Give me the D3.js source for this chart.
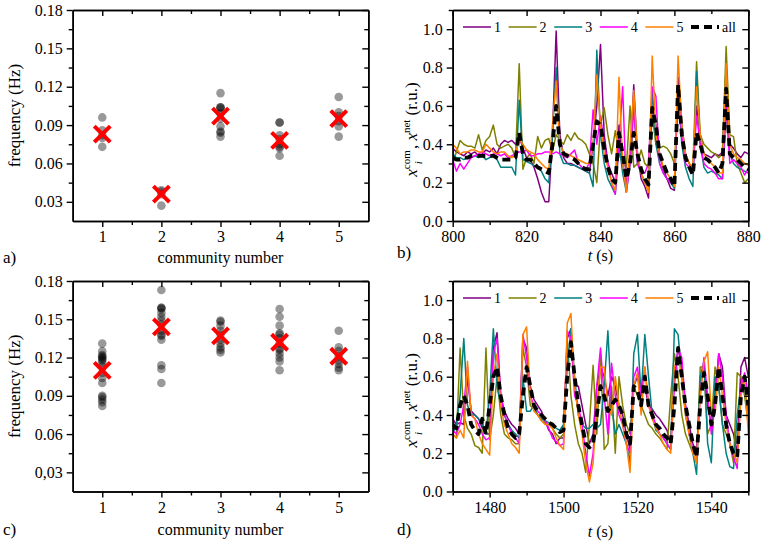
<!DOCTYPE html>
<html><head><meta charset="utf-8">
<script src="https://cdn.jsdelivr.net/npm/d3@7"></script>
<style>
body{margin:0;background:#fff}
text{font-family:"Liberation Serif","Times New Roman",serif;fill:#000}
</style>
</head><body>
<svg id="chart" width="764" height="544"></svg>
<script>
// ---------------- DATA ----------------
const categories = [1, 2, 3, 4, 5];
const freqTicksA = [0.03, 0.06, 0.09, 0.12, 0.15, 0.18];
const freqTickLabelsA = ["0.03", "0.06", "0.09", "0.12", "0.15", "0.18"];
const freqTickLabelsC = ["0,03", "0.06", "0.09", "0.12", "0.15", "0.18"];

// panel a: per-community node frequencies (Hz) and community frequency (red X)
const freqA1 = [0.096, 0.086, 0.082, 0.080, 0.073];
const freqA2 = [0.039, 0.038, 0.036, 0.027];
const freqA3 = [0.115, 0.104, 0.104, 0.103, 0.099, 0.095, 0.089, 0.085, 0.084, 0.081];
const freqA4 = [0.092, 0.092, 0.082, 0.079, 0.075, 0.073, 0.072, 0.066];
const freqA5 = [0.112, 0.100, 0.097, 0.093, 0.089, 0.081];
const meanA = [0.083, 0.036, 0.097, 0.078, 0.095];

// panel c
const freqC1 = [0.131, 0.125, 0.122, 0.121, 0.120, 0.119, 0.118, 0.116, 0.113, 0.108, 0.104, 0.100, 0.090, 0.089, 0.087, 0.085, 0.082];
const freqC2 = [0.173, 0.159, 0.159, 0.158, 0.155, 0.152, 0.149, 0.146, 0.141, 0.138, 0.137, 0.134, 0.114, 0.111, 0.100];
const freqC3 = [0.149, 0.148, 0.145, 0.141, 0.138, 0.134, 0.131, 0.128, 0.126, 0.124];
const freqC4 = [0.158, 0.152, 0.145, 0.139, 0.138, 0.135, 0.131, 0.127, 0.126, 0.123, 0.120, 0.117, 0.110];
const freqC5 = [0.141, 0.128, 0.125, 0.121, 0.118, 0.115, 0.112, 0.110];
const meanC = [0.110, 0.144, 0.137, 0.132, 0.121];

// panel b: time 800..880 s, 1 s step
const timeB = d3.range(800, 881);
const b1 = [0.38,0.36,0.35,0.34,0.36,0.35,0.36,0.34,0.35,0.37,0.36,0.38,0.35,0.40,0.42,0.41,0.42,0.40,0.44,0.38,
            0.33,0.32,0.28,0.22,0.15,0.10,0.10,0.45,0.99,0.45,0.33,0.30,0.30,0.29,0.28,0.27,0.26,0.25,0.40,0.60,
            0.92,0.45,0.30,0.25,0.20,0.50,0.30,0.20,0.30,0.71,0.35,0.22,0.18,0.12,0.60,0.50,0.35,0.27,0.22,0.17,
            0.16,0.75,0.50,0.35,0.30,0.25,0.60,0.45,0.35,0.34,0.33,0.35,0.34,0.36,0.80,0.40,0.38,0.35,0.33,0.36,0.35];
const b2 = [0.30,0.36,0.42,0.40,0.39,0.39,0.38,0.45,0.37,0.42,0.44,0.50,0.40,0.38,0.39,0.40,0.38,0.33,0.82,0.27,
            0.33,0.35,0.30,0.44,0.38,0.42,0.43,0.36,0.45,0.42,0.40,0.45,0.42,0.46,0.43,0.42,0.40,0.35,0.30,0.20,
            0.50,0.59,0.45,0.35,0.47,0.35,0.30,0.28,0.60,0.28,0.30,0.37,0.30,0.28,0.55,0.40,0.38,0.39,0.38,0.35,
            0.30,0.60,0.45,0.35,0.30,0.28,0.83,0.45,0.40,0.38,0.36,0.35,0.33,0.35,0.91,0.45,0.44,0.30,0.25,0.20,0.22];
const b3 = [0.35,0.33,0.33,0.32,0.33,0.33,0.34,0.33,0.34,0.32,0.33,0.34,0.32,0.28,0.28,0.28,0.28,0.24,0.63,0.32,
            0.31,0.30,0.29,0.28,0.26,0.22,0.20,0.45,0.80,0.35,0.30,0.30,0.29,0.29,0.28,0.27,0.26,0.25,0.18,0.89,
            0.45,0.30,0.22,0.18,0.14,0.40,0.25,0.15,0.30,0.60,0.30,0.25,0.20,0.18,0.69,0.40,0.30,0.25,0.22,0.20,
            0.17,0.70,0.40,0.28,0.22,0.18,0.78,0.40,0.28,0.25,0.26,0.25,0.24,0.22,0.60,0.35,0.30,0.28,0.27,0.26,0.25];
const b4 = [0.32,0.26,0.30,0.27,0.30,0.33,0.34,0.35,0.36,0.35,0.34,0.35,0.35,0.34,0.35,0.33,0.34,0.35,0.36,0.36,
            0.37,0.34,0.34,0.35,0.35,0.36,0.36,0.35,0.36,0.35,0.34,0.33,0.35,0.37,0.30,0.28,0.27,0.30,0.58,0.40,
            0.55,0.40,0.30,0.20,0.14,0.40,0.70,0.15,0.30,0.60,0.30,0.25,0.25,0.30,0.70,0.65,0.30,0.25,0.22,0.20,
            0.20,0.70,0.45,0.30,0.28,0.25,0.55,0.40,0.30,0.28,0.27,0.25,0.22,0.22,0.60,0.30,0.32,0.30,0.28,0.24,0.27];
const b5 = [0.40,0.38,0.35,0.36,0.36,0.37,0.37,0.36,0.36,0.40,0.38,0.36,0.35,0.36,0.36,0.34,0.33,0.35,0.43,0.40,
            0.37,0.36,0.35,0.32,0.30,0.28,0.27,0.50,0.73,0.40,0.36,0.35,0.34,0.33,0.32,0.31,0.30,0.30,0.40,0.76,
            0.50,0.35,0.28,0.20,0.16,0.75,0.30,0.15,0.40,0.68,0.35,0.25,0.20,0.15,0.86,0.45,0.35,0.28,0.25,0.22,
            0.18,0.86,0.50,0.35,0.30,0.28,0.70,0.45,0.35,0.32,0.30,0.28,0.25,0.25,0.82,0.40,0.35,0.33,0.32,0.30,0.29];
const bAll = [0.33,0.32,0.32,0.33,0.33,0.34,0.34,0.34,0.34,0.34,0.34,0.34,0.33,0.32,0.32,0.32,0.32,0.33,0.46,0.35,
              0.32,0.32,0.30,0.28,0.27,0.26,0.25,0.40,0.60,0.40,0.35,0.34,0.33,0.32,0.30,0.28,0.27,0.27,0.40,0.52,
              0.50,0.38,0.28,0.22,0.20,0.46,0.35,0.22,0.30,0.46,0.35,0.27,0.22,0.19,0.59,0.50,0.35,0.30,0.25,0.22,
              0.18,0.71,0.45,0.33,0.28,0.24,0.46,0.40,0.33,0.32,0.30,0.28,0.25,0.30,0.69,0.35,0.33,0.32,0.30,0.28,0.27];

// panel d: time 1470..1550 s, 1 s step
const timeD = d3.range(1470, 1551);
const d1 = [0.38,0.35,0.36,0.35,0.60,0.42,0.40,0.38,0.33,0.30,0.30,0.75,0.83,0.50,0.42,0.38,0.35,0.33,0.30,0.80,
            0.75,0.55,0.48,0.45,0.42,0.37,0.32,0.30,0.25,0.28,0.28,0.80,0.85,0.55,0.55,0.45,0.35,0.25,0.30,0.55,
            0.65,0.60,0.50,0.60,0.55,0.45,0.40,0.30,0.22,0.55,0.60,0.50,0.55,0.45,0.43,0.40,0.38,0.35,0.32,0.25,
            0.60,0.75,0.65,0.45,0.35,0.25,0.20,0.55,0.65,0.45,0.35,0.50,0.72,0.65,0.40,0.35,0.30,0.20,0.65,0.70,0.60];
const d2 = [0.30,0.28,0.75,0.40,0.33,0.30,0.24,0.23,0.20,0.75,0.27,0.40,0.60,0.40,0.30,0.28,0.27,0.25,0.25,0.75,
            0.65,0.45,0.43,0.40,0.37,0.36,0.35,0.33,0.30,0.28,0.30,0.80,0.50,0.35,0.25,0.20,0.10,0.35,0.66,0.30,
            0.72,0.22,0.25,0.55,0.20,0.60,0.45,0.35,0.30,0.55,0.50,0.45,0.40,0.35,0.33,0.30,0.28,0.25,0.22,0.50,
            0.72,0.60,0.40,0.30,0.25,0.20,0.15,0.65,0.65,0.30,0.35,0.65,0.55,0.35,0.30,0.25,0.15,0.62,0.60,0.50,0.35];
const d3s = [0.30,0.35,0.50,0.80,0.45,0.40,0.40,0.38,0.35,0.30,0.50,0.85,0.55,0.45,0.40,0.35,0.32,0.30,0.28,0.60,
             0.42,0.42,0.45,0.40,0.38,0.37,0.36,0.35,0.33,0.32,0.35,0.65,0.85,0.60,0.40,0.35,0.33,0.33,0.35,0.33,
             0.35,0.55,0.84,0.45,0.30,0.35,0.30,0.25,0.15,0.72,0.82,0.50,0.82,0.60,0.40,0.32,0.30,0.28,0.25,0.22,
             0.85,0.82,0.60,0.40,0.30,0.20,0.09,0.60,0.68,0.25,0.15,0.60,0.55,0.35,0.20,0.13,0.12,0.40,0.55,0.55,0.40];
const d4 = [0.32,0.30,0.35,0.45,0.65,0.40,0.38,0.35,0.30,0.27,0.28,0.72,0.80,0.50,0.40,0.35,0.30,0.28,0.25,0.82,
            0.70,0.50,0.45,0.42,0.40,0.37,0.33,0.28,0.26,0.24,0.25,0.84,0.80,0.50,0.45,0.35,0.20,0.08,0.20,0.55,
            0.75,0.50,0.30,0.67,0.50,0.40,0.35,0.25,0.20,0.60,0.65,0.50,0.65,0.45,0.40,0.35,0.30,0.28,0.25,0.22,
            0.55,0.75,0.70,0.45,0.30,0.22,0.18,0.50,0.70,0.50,0.30,0.45,0.72,0.60,0.40,0.25,0.18,0.12,0.55,0.62,0.50];
const d5 = [0.30,0.28,0.32,0.28,0.68,0.40,0.38,0.30,0.25,0.22,0.19,0.60,0.72,0.45,0.35,0.30,0.25,0.23,0.20,0.82,
            0.86,0.50,0.42,0.40,0.37,0.35,0.35,0.33,0.28,0.24,0.22,0.88,0.93,0.55,0.40,0.30,0.15,0.05,0.15,0.45,
            0.65,0.65,0.45,0.40,0.60,0.45,0.35,0.25,0.10,0.55,0.62,0.40,0.65,0.45,0.38,0.33,0.30,0.25,0.22,0.20,
            0.65,0.70,0.60,0.40,0.30,0.20,0.15,0.50,0.68,0.73,0.40,0.40,0.65,0.50,0.35,0.25,0.20,0.15,0.50,0.60,0.30];
const dAll = [0.35,0.33,0.45,0.50,0.45,0.35,0.32,0.30,0.38,0.30,0.45,0.60,0.65,0.50,0.40,0.33,0.30,0.28,0.30,0.50,
              0.65,0.55,0.45,0.42,0.40,0.38,0.36,0.35,0.33,0.31,0.32,0.60,0.78,0.60,0.45,0.35,0.25,0.23,0.25,0.40,
              0.55,0.50,0.42,0.45,0.48,0.45,0.40,0.30,0.25,0.55,0.53,0.45,0.60,0.45,0.40,0.35,0.33,0.30,0.28,0.25,
              0.45,0.75,0.60,0.45,0.35,0.25,0.18,0.45,0.62,0.50,0.35,0.45,0.65,0.50,0.35,0.25,0.20,0.18,0.50,0.60,0.45];

const seriesNames = ["1", "2", "3", "4", "5", "all"];
const seriesColors = ["#800080", "#808000", "#008080", "#ff00ff", "#ff8000", "#000000"];
const xTicksB = [800, 820, 840, 860, 880];
const xMinorB = [810, 830, 850, 870];
const xTicksD = [1480, 1500, 1520, 1540];
const xMinorD = [1470, 1490, 1510, 1530, 1550];
const yTicksR = [0.0, 0.2, 0.4, 0.6, 0.8, 1.0];
const yMinorR = [0.1, 0.3, 0.5, 0.7, 0.9, 1.1];

// ---------------- DRAWING ----------------
const svg = d3.select("#chart");
const LX0 = 72.7, LX1 = 368.3, RX0 = 452.7, RX1 = 748.3;
const ROW1 = [10, 221], ROW2 = [281, 491.5];

function drawFrame(x, y, opts) {
  const g = svg.append("g");
  const [x0, x1] = x.range();
  const [yb, yt] = y.range();
  const style = sel => {
    sel.attr("font-family", null);
    sel.selectAll("path.domain").attr("stroke", "#000").attr("stroke-width", 1.6);
    sel.selectAll(".tick line").attr("stroke", "#000").attr("stroke-width", 1.4);
    sel.selectAll("text").attr("font-size", 16);
  };
  g.append("g").attr("transform", `translate(0,${yb})`)
    .call(d3.axisBottom(x).tickValues(opts.xTicks).tickSize(6).tickSizeOuter(0).tickPadding(4).tickFormat(opts.xFmt))
    .call(style);
  g.append("g").attr("transform", `translate(0,${yb})`)
    .call(d3.axisBottom(x).tickValues(opts.xMinor).tickSize(4).tickSizeOuter(0).tickFormat(""))
    .call(style);
  g.append("g").attr("transform", `translate(0,${yt})`)
    .call(d3.axisTop(x).tickValues(opts.xTicks).tickSize(-6).tickSizeOuter(0).tickFormat(""))
    .call(style);
  g.append("g").attr("transform", `translate(0,${yt})`)
    .call(d3.axisTop(x).tickValues(opts.xMinor).tickSize(-4).tickSizeOuter(0).tickFormat(""))
    .call(style);
  g.append("g").attr("transform", `translate(${x0},0)`)
    .call(d3.axisLeft(y).tickValues(opts.yTicks).tickSize(6).tickSizeOuter(0).tickPadding(4)
      .tickFormat((d, i) => opts.yLabels[i]))
    .call(style);
  g.append("g").attr("transform", `translate(${x0},0)`)
    .call(d3.axisLeft(y).tickValues(opts.yMinor).tickSize(4).tickSizeOuter(0).tickFormat(""))
    .call(style);
  g.append("g").attr("transform", `translate(${x1},0)`)
    .call(d3.axisRight(y).tickValues(opts.yTicks).tickSize(-6).tickSizeOuter(0).tickFormat(""))
    .call(style);
  g.append("g").attr("transform", `translate(${x1},0)`)
    .call(d3.axisRight(y).tickValues(opts.yMinor).tickSize(-4).tickSizeOuter(0).tickFormat(""))
    .call(style);
}

function scatterPanel(row, groups, means, yLabels, letter, letterY, titleY) {
  const x = d3.scaleLinear().domain([0.5, 5.5]).range([LX0, LX1]);
  const y = d3.scaleLinear().domain([0.015, 0.18]).range([row[1], row[0]]);
  const pts = svg.append("g");
  groups.forEach((vals, i) => {
    pts.selectAll(null).data(vals).enter().append("circle")
      .attr("cx", x(categories[i])).attr("cy", d => y(d)).attr("r", 4.3)
      .attr("fill", "#000").attr("fill-opacity", 0.4);
  });
  const s = 8;
  const xs = svg.append("g");
  means.forEach((m, i) => {
    const cx = x(categories[i]), cy = y(m);
    xs.append("path")
      .attr("d", `M${cx - s},${cy - s}L${cx + s},${cy + s}M${cx - s},${cy + s}L${cx + s},${cy - s}`)
      .attr("stroke", "#ff0000").attr("stroke-width", 4).attr("fill", "none");
  });
  drawFrame(x, y, {
    xTicks: categories, xMinor: [1.5, 2.5, 3.5, 4.5], xFmt: d3.format("d"),
    yTicks: freqTicksA, yMinor: [0.045, 0.075, 0.105, 0.135, 0.165], yLabels: yLabels
  });
  svg.append("text").attr("x", (LX0 + LX1) / 2).attr("y", titleY).attr("text-anchor", "middle")
    .attr("font-size", 16).text("community number");
  svg.append("text").attr("transform", `translate(20,${(row[0] + row[1]) / 2}) rotate(-90)`)
    .attr("text-anchor", "middle").attr("font-size", 17).text("frequency (Hz)");
  svg.append("text").attr("x", 3).attr("y", letterY).attr("font-size", 17).text(letter);
}

function linePanel(row, time, series, xTicks, xMinor, letter, letterY, titleY, clipId) {
  const x = d3.scaleLinear().domain([time[0], time[time.length - 1]]).range([RX0, RX1]);
  const y = d3.scaleLinear().domain([0, 1.1]).range([row[1], row[0]]);
  svg.append("clipPath").attr("id", clipId).append("rect")
    .attr("x", RX0).attr("y", row[0]).attr("width", RX1 - RX0).attr("height", row[1] - row[0]);
  const line = d3.line().x((d, i) => x(time[i])).y(d => y(d));
  const g = svg.append("g").attr("clip-path", `url(#${clipId})`);
  series.forEach((vals, k) => {
    const p = g.append("path").datum(vals).attr("d", line).attr("fill", "none")
      .attr("stroke", seriesColors[k]).attr("stroke-linejoin", "round");
    if (k === 5) p.attr("stroke-width", 3.8).attr("stroke-dasharray", "8,5");
    else p.attr("stroke-width", 1.5);
  });
  const ly = row[0] + 17;
  seriesNames.forEach((nm, k) => {
    const lx = 463 + k * 45.6;
    const l = svg.append("line").attr("x1", lx).attr("x2", lx + 28).attr("y1", ly).attr("y2", ly)
      .attr("stroke", seriesColors[k]);
    if (k === 5) l.attr("stroke-width", 3.8).attr("stroke-dasharray", "8,5");
    else l.attr("stroke-width", 1.5);
    svg.append("text").attr("x", lx + 31).attr("y", ly + 4.5).attr("font-size", 14).text(nm);
  });
  drawFrame(x, y, {
    xTicks: xTicks, xMinor: xMinor, xFmt: d3.format("d"),
    yTicks: yTicksR, yMinor: yMinorR, yLabels: yTicksR.map(d3.format(".1f"))
  });
  const t = svg.append("text").attr("x", (RX0 + RX1) / 2).attr("y", titleY).attr("text-anchor", "middle")
    .attr("font-size", 16);
  t.append("tspan").attr("font-style", "italic").text("t");
  t.append("tspan").text(" (s)");
  const yl = svg.append("text")
    .attr("transform", `translate(417,${(row[0] + row[1]) / 2 + 14}) rotate(-90)`)
    .attr("text-anchor", "middle").attr("font-size", 17);
  yl.append("tspan").attr("font-style", "italic").text("x");
  yl.append("tspan").attr("font-size", 11).attr("dy", -7).text("com");
  yl.append("tspan").attr("font-size", 11).attr("font-style", "italic").attr("dx", -14).attr("dy", 12).text("i");
  yl.append("tspan").attr("dx", 12).attr("dy", -5).text(", ");
  yl.append("tspan").attr("font-style", "italic").text("x");
  yl.append("tspan").attr("font-size", 11).attr("dy", -7).text("net");
  yl.append("tspan").attr("dy", 7).text(" (r.u.)");
  svg.append("text").attr("x", 397).attr("y", letterY).attr("font-size", 17).text(letter);
}

scatterPanel(ROW1, [freqA1, freqA2, freqA3, freqA4, freqA5], meanA, freqTickLabelsA, "a)", 263, 263);
scatterPanel(ROW2, [freqC1, freqC2, freqC3, freqC4, freqC5], meanC, freqTickLabelsC, "c)", 535, 535);
linePanel(ROW1, timeB, [b1, b2, b3, b4, b5, bAll], xTicksB, xMinorB, "b)", 258, 261, "clipB");
linePanel(ROW2, timeD, [d1, d2, d3s, d4, d5, dAll], xTicksD, xMinorD, "d)", 535, 537, "clipD");
</script>
</body></html>
